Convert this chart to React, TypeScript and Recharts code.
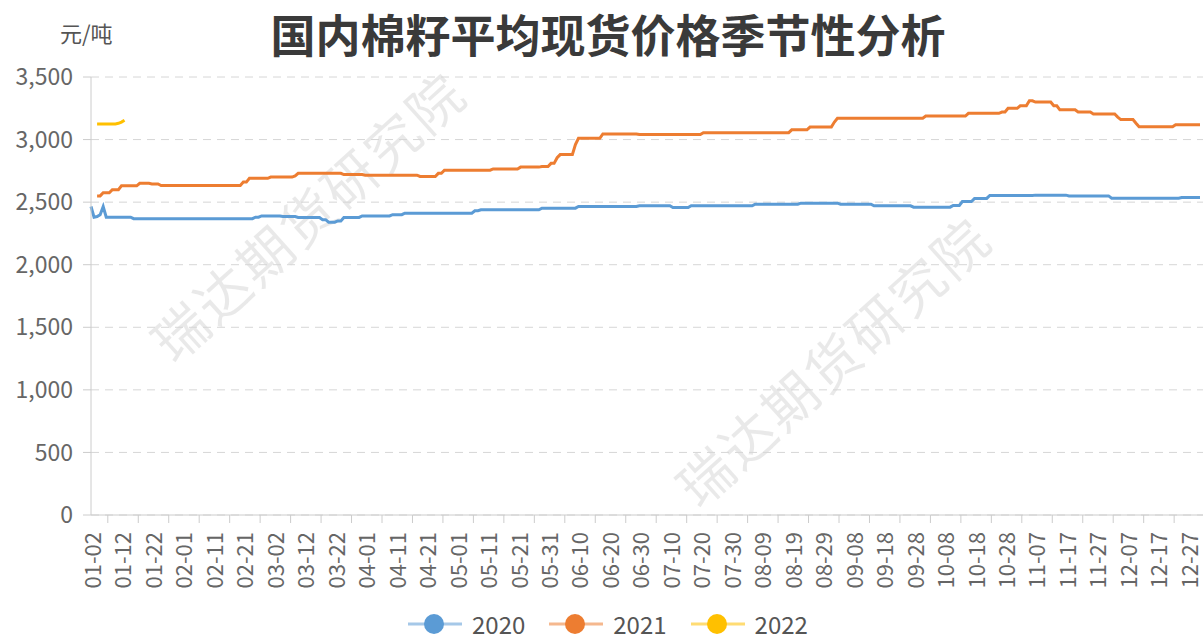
import React from 'react';
import { LineChart, Line, XAxis, YAxis, CartesianGrid } from 'recharts';

const TITLE = '国内棉籽平均现货价格季节性分析';
const UNIT = '元/吨';
const WATERMARK = '瑞达期货研究院';
const SERIES_NAMES = ['2020', '2021', '2022'];
const COLORS = ['#5B9BD5', '#ED7D31', '#FFC000'];
const Y_TICKS = [0, 500, 1000, 1500, 2000, 2500, 3000, 3500];
const MONTH_DAYS = [31, 29, 31, 30, 31, 30, 31, 31, 30, 31, 30, 31];
const FIRST_DAY = '01-02';

// price readings (date, price) – each price holds until the next reading
const READ_2020: [string, number][] = [
  ['01-02', 2465], ['01-03', 2380], ['01-04', 2385], ['01-05', 2400], ['01-06', 2465],
  ['01-07', 2380], ['01-16', 2368], ['02-25', 2380], ['02-27', 2390], ['03-05', 2385],
  ['03-10', 2377], ['03-18', 2360], ['03-20', 2340], ['03-23', 2350], ['03-25', 2378],
  ['03-31', 2390], ['04-10', 2400], ['04-14', 2412], ['05-07', 2431], ['05-09', 2439],
  ['05-29', 2452], ['06-10', 2465], ['06-30', 2471], ['07-11', 2457], ['07-17', 2471],
  ['08-07', 2484], ['08-22', 2492], ['09-04', 2484], ['09-15', 2471], ['09-28', 2460],
  ['10-11', 2474], ['10-14', 2505], ['10-18', 2530], ['10-23', 2553], ['11-07', 2556],
  ['11-18', 2550], ['12-02', 2532], ['12-25', 2537], ['12-31', 2537],
];

const READ_2021: [string, number][] = [
  ['01-04', 2550], ['01-06', 2575], ['01-09', 2600], ['01-12', 2630], ['01-18', 2650],
  ['01-22', 2645], ['01-25', 2633], ['02-21', 2660], ['02-23', 2690], ['03-01', 2700],
  ['03-09', 2710], ['03-10', 2730], ['03-25', 2720], ['04-01', 2715], ['04-19', 2705],
  ['04-25', 2730], ['04-27', 2755], ['05-13', 2765], ['05-22', 2780], ['05-29', 2785],
  ['06-01', 2810], ['06-03', 2855], ['06-04', 2880], ['06-09', 2960], ['06-10', 3010],
  ['06-18', 3045], ['06-30', 3040], ['07-21', 3055], ['08-19', 3078], ['08-25', 3100],
  ['09-02', 3140], ['09-03', 3170], ['10-02', 3188], ['10-16', 3210], ['10-27', 3220],
  ['10-29', 3250], ['11-02', 3270], ['11-05', 3310], ['11-07', 3300], ['11-13', 3270],
  ['11-15', 3238], ['11-21', 3220], ['11-26', 3205], ['12-04', 3180], ['12-05', 3160],
  ['12-10', 3130], ['12-11', 3102], ['12-23', 3118], ['12-31', 3118],
];

const READ_2022: [string, number][] = [
  ['01-04', 3125], ['01-11', 3130], ['01-12', 3140], ['01-13', 3155],
];

const pad = (n: number) => (n < 10 ? '0' + n : '' + n);
const CATEGORIES: string[] = [];
MONTH_DAYS.forEach((len, m) => {
  for (let d = 1; d <= len; d++) {
    const s = pad(m + 1) + '-' + pad(d);
    if (s >= FIRST_DAY) CATEGORIES.push(s);
  }
});

const holdValue = (reads: [string, number][], date: string): number | null => {
  if (date < reads[0][0] || date > reads[reads.length - 1][0]) return null;
  let v: number | null = null;
  for (const [d, val] of reads) {
    if (d <= date) v = val;
  }
  return v;
};

const DATA = CATEGORIES.map((date) => ({
  date,
  s2020: holdValue(READ_2020, date),
  s2021: holdValue(READ_2021, date),
  s2022: holdValue(READ_2022, date),
}));

const FONT = '"Microsoft YaHei", "Noto Sans CJK SC", "Noto Sans", sans-serif';

const XTick = (props: any) => {
  const { x, y, payload } = props;
  const ty = y + 17;
  return (
    <g>
      <line x1={x + 16.8} x2={x + 16.8} y1={y} y2={y + 8} stroke="#cccccc" />
      <text
        x={x}
        y={ty}
        transform={`rotate(-90 ${x} ${ty})`}
        textAnchor="end"
        dominantBaseline="central"
        fill="#666666"
        fontSize={22}
        fontFamily={FONT}
      >
        {payload.value}
      </text>
    </g>
  );
};

const Watermark = ({ cx, cy }: { cx: number; cy: number }) => (
  <div
    style={{
      position: 'absolute',
      left: cx - 250,
      top: cy - 35,
      width: 500,
      height: 70,
      lineHeight: '70px',
      textAlign: 'center',
      fontSize: 54,
      letterSpacing: 3,
      color: 'rgba(0,0,0,0.085)',
      fontFamily: FONT,
      transform: 'rotate(-42deg)',
      whiteSpace: 'nowrap',
      pointerEvents: 'none',
    }}
  >
    {WATERMARK}
  </div>
);

export default function App() {
  const keys = ['s2020', 's2021', 's2022'];
  return (
    <div style={{ position: 'absolute', left: 0, top: 0, width: 1203, height: 641, overflow: 'hidden', background: '#fff', fontFamily: FONT }}>
      <Watermark cx={307} cy={215} />
      <Watermark cx={832} cy={360} />
      <div style={{ position: 'absolute', left: 0, top: 0 }}>
        <LineChart width={1203} height={641} data={DATA} margin={{ top: 77, right: 0, left: 0, bottom: 0 }}>
          <CartesianGrid vertical={false} stroke="#d6d6d6" strokeDasharray="8 6" />
          <XAxis
            dataKey="date"
            interval={9}
            height={126}
            tickSize={0}
            tickMargin={0}
            tickLine={false}
            axisLine={{ stroke: '#cccccc' }}
            tick={<XTick />}
            padding={{ left: 0, right: 3 }}
          />
          <YAxis
            width={91}
            domain={[0, 3500]}
            ticks={Y_TICKS}
            interval={0}
            tickSize={8}
            tickMargin={10}
            axisLine={{ stroke: '#cccccc' }}
            tickLine={{ stroke: '#cccccc' }}
            tick={{ fill: '#666666', fontSize: 23, fontFamily: FONT }}
            tickFormatter={(v: number) => v.toLocaleString('en-US')}
          />
          {keys.map((k, i) => (
            <Line
              key={k}
              dataKey={k}
              name={SERIES_NAMES[i]}
              stroke={COLORS[i]}
              strokeWidth={3}
              dot={false}
              type="linear"
              connectNulls={false}
              isAnimationActive={false}
            />
          ))}
        </LineChart>
      </div>
      <div style={{ position: 'absolute', left: 0, top: 6, width: 1216, textAlign: 'center', fontSize: 45, fontWeight: 'bold', color: '#3a3a3a', lineHeight: '56px' }}>
        {TITLE}
      </div>
      <div style={{ position: 'absolute', left: 60, top: 17, fontSize: 22, color: '#555555', lineHeight: '30px' }}>{UNIT}</div>
      <div style={{ position: 'absolute', left: 408, top: 611, display: 'flex', alignItems: 'center', height: 26 }}>
        {SERIES_NAMES.map((n, i) => (
          <div key={n} style={{ display: 'flex', alignItems: 'center', marginRight: 24, height: 26 }}>
            <svg width={54} height={24}>
              <line x1={0} x2={54} y1={12} y2={12} stroke={COLORS[i]} strokeOpacity={0.55} strokeWidth={3} />
              <circle cx={26} cy={12} r={10} fill={COLORS[i]} />
            </svg>
            <span style={{ marginLeft: 10, fontSize: 24, color: '#555555', lineHeight: '26px' }}>{n}</span>
          </div>
        ))}
      </div>
    </div>
  );
}
